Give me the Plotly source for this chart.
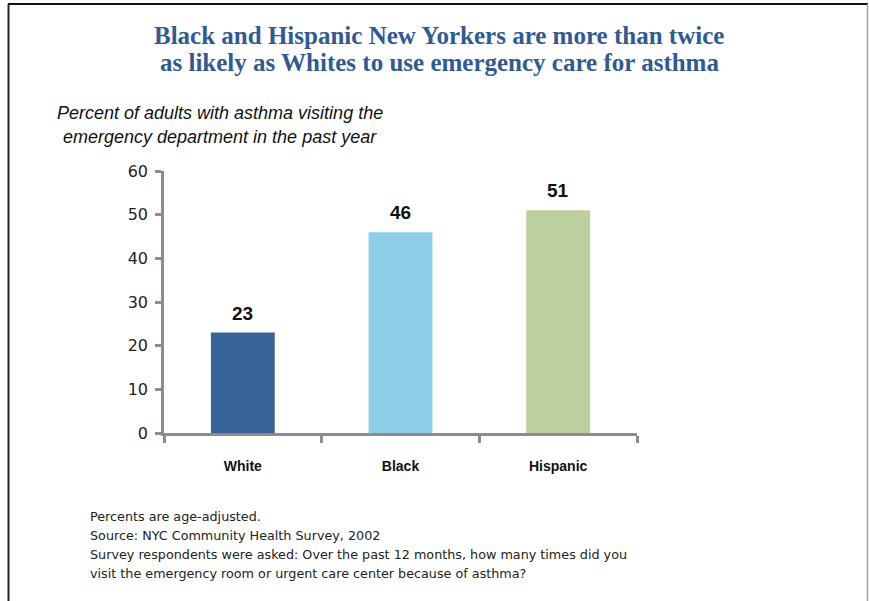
import plotly.graph_objects as go

# Data
groups = ["White", "Black", "Hispanic"]
pct_ed_visit = [23, 46, 51]
bar_colors = ["#37629a", "#8ecfe8", "#bccf9f"]
y_ticks = [0, 10, 20, 30, 40, 50, 60]

title_lines = [
    "Black and Hispanic New Yorkers are more than twice",
    "as likely as Whites to use emergency care for asthma",
]
y_title_lines = [
    "Percent of adults with asthma visiting the",
    "emergency department in the past year",
]
footnotes = [
    "Percents are age-adjusted.",
    "Source: NYC Community Health Survey, 2002",
    "Survey respondents were asked: Over the past 12 months, how many times did you",
    "visit the emergency room or urgent care center because of asthma?",
]

W, H = 869, 601
L, R, T, B = 164, 232, 171, 168
pw, ph = W - L - R, H - T - B


def px_x(px):
    return (px - L) / pw


def px_y(py):
    return (H - B - py) / ph


axis_grey = "#8c8c8c"

fig = go.Figure()
fig.add_trace(go.Bar(
    x=groups,
    y=pct_ed_visit,
    marker=dict(color=bar_colors, line=dict(width=0)),
    width=0.405,
    hoverinfo="x+y",
))

annotations = []
# value labels above bars
for g, v in zip(groups, pct_ed_visit):
    annotations.append(dict(
        x=g, y=v, xref="x", yref="y", text=f"<b>{v}</b>", showarrow=False,
        yanchor="bottom", yshift=7,
        font=dict(family="Liberation Sans, Arial", size=19, color="#111111"),
    ))

# chart title, one annotation per line for tight leading
for i, line in enumerate(title_lines):
    annotations.append(dict(
        x=px_x(439), y=px_y(35 + 27 * i), xref="paper", yref="paper", showarrow=False,
        xanchor="center", yanchor="middle",
        text=f"<b>{line}</b>",
        font=dict(family="Liberation Serif, Times New Roman, serif", size=25, color="#2f5b92"),
    ))

# y-axis title (italic, above the axis)
for i, line in enumerate(y_title_lines):
    annotations.append(dict(
        x=px_x(220), y=px_y(113 + 24 * i), xref="paper", yref="paper", showarrow=False,
        xanchor="center", yanchor="middle",
        text=f"<i>{line}</i>",
        font=dict(family="Liberation Sans, Arial", size=18, color="#111111"),
    ))

# footnotes
for i, line in enumerate(footnotes):
    annotations.append(dict(
        x=px_x(88), y=px_y(516 + 19.3 * i), xref="paper", yref="paper", showarrow=False,
        xanchor="left", yanchor="middle", align="left",
        text=line,
        font=dict(family="DejaVu Sans", size=12.75, color="#222222"),
    ))

# page frame
frame = [
    dict(x0=px_x(8.5), x1=px_x(8.5), y0=px_y(4), y1=px_y(601), color="#222222", w=2),
    dict(x0=px_x(8), x1=px_x(868), y0=px_y(4), y1=px_y(4), color="#111111", w=2),
    dict(x0=px_x(867.5), x1=px_x(867.5), y0=px_y(4), y1=px_y(601), color="#a0a0a0", w=1.5),
]
shapes = [
    dict(type="line", xref="paper", yref="paper", x0=f["x0"], x1=f["x1"],
         y0=f["y0"], y1=f["y1"], line=dict(color=f["color"], width=f["w"]))
    for f in frame
]

fig.update_layout(
    width=W, height=H,
    margin=dict(l=L, r=R, t=T, b=B, pad=0),
    paper_bgcolor="white", plot_bgcolor="white",
    showlegend=False,
    annotations=annotations,
    shapes=shapes,
    xaxis=dict(
        type="category", range=[-0.5, 2.5],
        showline=True, linecolor=axis_grey, linewidth=2.5,
        ticks="outside", tickson="boundaries", ticklen=7, tickwidth=2.5, tickcolor=axis_grey,
        showgrid=False, zeroline=False,
        ticklabelstandoff=18,
        tickfont=dict(family="Liberation Sans, Arial", size=14, color="#111111", weight="bold"),
    ),
    yaxis=dict(
        range=[0, 60], tickvals=y_ticks,
        showline=True, linecolor=axis_grey, linewidth=2.5,
        ticks="outside", ticklen=6, tickwidth=2.5, tickcolor=axis_grey,
        showgrid=False, zeroline=False,
        ticklabelstandoff=4,
        tickfont=dict(family="DejaVu Sans", size=16, color="#222222"),
    ),
)

fig.write_html("out.html")
